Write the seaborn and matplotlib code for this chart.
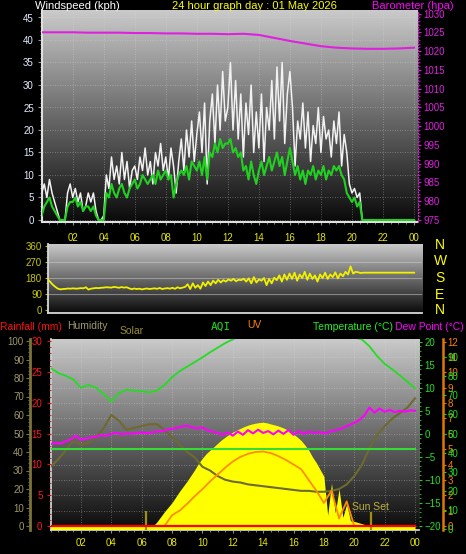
import numpy as np
import matplotlib
matplotlib.use('Agg')
import matplotlib.pyplot as plt
from matplotlib.ticker import MultipleLocator, FixedLocator
from matplotlib.colors import LinearSegmentedColormap
import seaborn as sns

# ---------------- data ----------------
t10 = np.arange(145) / 6.0   # 10-minute steps (hours)
t15 = np.arange(97) / 4.0
t20 = np.arange(73) / 3.0
t30 = np.arange(49) / 2.0
t60 = np.arange(25) * 1.0

wind_gust = [
    6, 8, 5, 9, 6, 4,
    2, 0, 0, 0, 6, 8,
    5, 7, 4, 6, 2, 3,
    6, 4, 6, 2, 0, 0,
    1, 10, 7, 14, 9, 12,
    8, 15, 9, 13, 7, 11,
    12, 9, 14, 11, 16, 10,
    13, 8, 15, 12, 17, 11,
    14, 9, 16, 12, 6, 13,
    18, 11, 20, 14, 22, 13,
    19, 24, 15, 26, 8, 22,
    28, 17, 30, 20, 33, 22,
    25, 35, 20, 31, 18, 28,
    14, 26, 19, 30, 15, 24,
    16, 28, 13, 25, 20, 31,
    18, 34, 22, 35, 17, 28,
    33, 25, 12, 22, 18, 26,
    16, 24, 13, 21, 17, 25,
    15, 23, 18, 20, 14, 22,
    17, 24, 12, 19, 15, 8,
    6, 7, 5, 6, 0, 0,
    0, 0, 0, 0, 0, 0,
    0, 0, 0, 0, 0, 0,
    0, 0, 0, 0, 0, 0,
    0]

wind_avg = [
    1, 3, 4, 5, 3, 2,
    1, 0, 0, 0, 3, 4,
    4, 5, 3, 4, 2, 3,
    3, 2, 3, 1, 0, 0,
    0, 6, 5, 8, 6, 5,
    7, 8, 6, 5, 7, 8,
    9, 7, 8, 10, 9, 8,
    9, 10, 8, 11, 9, 10,
    11, 9, 10, 5, 8, 10,
    11, 10, 12, 9, 13, 12,
    11, 13, 10, 14, 9, 15,
    14, 17, 15, 18, 16, 17,
    17, 18, 15, 16, 14, 15,
    11, 12, 9, 13, 10, 8,
    11, 13, 10, 12, 14, 11,
    13, 15, 12, 14, 10, 13,
    16, 13, 10, 12, 9, 11,
    8, 11, 10, 12, 9, 11,
    10, 12, 9, 11, 10, 12,
    11, 12, 10, 9, 6, 5,
    4, 5, 3, 4, 0, 0,
    0, 0, 0, 0, 0, 0,
    0, 0, 0, 0, 0, 0,
    0, 0, 0, 0, 0, 0,
    0]

barometer = [1025.0, 1025.0, 1025.0, 1024.9, 1024.9, 1024.9, 1024.8, 1024.8,
             1024.7, 1024.7, 1024.6, 1024.6, 1024.5, 1024.6, 1024.3, 1023.5,
             1022.7, 1022.0, 1021.3, 1020.9, 1020.7, 1020.6, 1020.6, 1020.7,
             1020.9]

wind_dir = [
    172, 158, 142, 130, 120, 116,
    118, 119, 121, 120, 122, 120,
    121, 123, 122, 128, 115, 120,
    122, 124, 123, 125, 126, 128,
    127, 126, 130, 128, 125, 129,
    126, 128, 122, 117, 121, 118,
    120, 116, 119, 121, 118, 120,
    122, 119, 124, 118, 121, 123,
    120, 125, 119, 128, 122, 126,
    130, 145, 118, 150, 125, 140,
    120, 155, 135, 160, 140, 165,
    150, 170, 155, 168, 160, 172,
    165, 175, 162, 170, 168, 176,
    160, 178, 150, 185, 155, 172,
    165, 180, 140, 175, 150, 182,
    168, 195, 160, 200, 170, 205,
    175, 210, 165, 200, 180, 215,
    170, 205, 175, 195, 160, 200,
    180, 210, 175, 200, 185, 212,
    178, 205, 190, 215, 200, 245,
    205, 215, 212, 208, 210, 210,
    210, 210, 210, 210, 210, 210,
    210, 210, 210, 210, 210, 210,
    210, 210, 210, 210, 210, 210,
    210]

temperature = [14.3, 13.2, 12.6, 11.8, 10.0, 10.6, 10.0, 8.6, 7.0, 8.8,
               9.6, 9.4, 9.3, 9.0, 9.4, 10.6, 12.3, 13.6, 14.6, 15.6,
               16.6, 17.7, 18.7, 19.7, 20.5, 21.3, 22.0, 22.6, 23.1, 23.4,
               23.5, 23.4, 23.2, 23.0, 22.8, 22.6, 22.3, 22.0, 21.7, 21.3,
               20.9, 20.5, 19.0, 16.9, 15.2, 14.0, 12.7, 11.3, 9.9]

dew_point = [
    -2.2, -2.0, -2.1, -1.6, -1.2, -0.4,
    -1.3, -1.0, -0.8, -0.6, -0.3, -0.4,
    0.0, 0.2, -0.1, 0.1, 0.0, 0.2,
    0.3, 0.1, 0.3, 0.5, 0.6, 0.9,
    1.1, 1.3, 1.6, 1.8, 1.4, 1.2,
    1.4, 0.8, 0.5, 0.2, -0.2, 0.3,
    -0.4, 0.5, -0.2, 0.8, 0.1, 0.9,
    0.2, 0.6, -0.1, 0.7, 0.0, 0.8,
    -0.2, 0.6, 0.0, 0.5, 0.2, 0.4,
    0.1, 0.4, 0.7, 1.0, 1.4, 1.9,
    2.4, 3.0, 4.0, 5.7, 4.6, 5.5,
    4.8, 5.2, 4.7, 5.0, 4.8, 5.1,
    5.0]

humidity = [32, 36, 41, 46, 44, 45, 48, 53, 60, 57,
            52, 53, 54, 55, 55, 52, 48, 44, 40, 37,
            32, 30, 27, 25, 24, 23.5, 22.5, 22, 21.5, 21,
            20.5, 20, 19.5, 19, 19, 18.5, 18.5, 19, 20, 22.5,
            27, 33, 42, 49, 54, 58, 61, 64, 69]

solar = [0, 0, 0, 0, 0, 0, 0, 0, 0, 0, 0, 0, 0, 0, 0, 0, 0, 0, 0, 0,
         0, 0, 0, 0, 0, 0, 0,
         5, 40, 85, 130, 170, 210, 260, 310, 355, 400, 450, 500, 555,
         600, 640, 670, 700, 730, 760, 785, 808, 828, 846, 862, 877,
         890, 900, 907, 913, 915, 910, 900, 892, 882, 870, 855, 835,
         810, 785, 755, 715, 670, 610, 560, 500, 440, 100, 380, 120,
         330, 80, 200, 50, 45, 35, 25, 15, 5,
         0, 0, 0, 0, 0, 0, 0, 0, 0, 0, 0, 0]

uv_index = [0, 0, 0, 0, 0, 0, 0, 0, 0, 0, 0, 0, 0, 0, 0, 0,
            0.7, 1.0, 1.45, 1.95, 2.4, 2.9, 3.35, 3.8, 4.2, 4.5,
            4.7, 4.82, 4.85, 4.75, 4.55, 4.3, 4.0, 3.7, 3.0, 2.3,
            1.5, 2.3, 0.5, 1.6,
            0, 0, 0, 0, 0, 0, 0, 0, 0]

aqi = [42] * 49
rainfall = [0.0] * 49

sunrise_hour = 6.28
sunset_hour = 21.09

hour_ticks = [2, 4, 6, 8, 10, 12, 14, 16, 18, 20, 22, 24]
hour_labels = ['02', '04', '06', '08', '10', '12', '14', '16', '18', '20', '22', '00']
dir_letters = ['N', 'W', 'S', 'E', 'N']

# ---------------- layout helpers ----------------
W, H = 466, 554
fig = plt.figure(figsize=(W / 100, H / 100), dpi=100, facecolor='black')
plt.rcParams['font.family'] = ['Liberation Sans', 'DejaVu Sans']
PT = 0.72  # points per pixel at 100 dpi

_n = [0]


def add_ax(l, t, r, b):
    _n[0] += 1
    ax = fig.add_axes([l / W, 1 - b / H, (r - l) / W, (b - t) / H], label='ax%d' % _n[0])
    ax.set_facecolor('none')
    for s in ax.spines.values():
        s.set_visible(False)
    ax.tick_params(axis='both', which='both', bottom=False, left=False, right=False, top=False,
                   labelbottom=False, labelleft=False, labelright=False, labeltop=False)
    return ax


def lims(v0, p0, v1, p1, lo_px, hi_px):
    k = (v1 - v0) / (p1 - p0)
    return v0 + (lo_px - p0) * k, v0 + (hi_px - p0) * k


cmap = LinearSegmentedColormap.from_list('g', ['#0a0a0a', '#cacaca'])
grad = np.linspace(1, 0, 256).reshape(-1, 1)


def gradient(ax):
    ax.imshow(grad, extent=[0, 1, 0, 1], transform=ax.transAxes, cmap=cmap,
              aspect='auto', zorder=0, vmin=0, vmax=1)


def hours_axis(ax, pad):
    ax.xaxis.set_major_locator(FixedLocator(hour_ticks))
    ax.set_xticklabels(hour_labels)
    ax.xaxis.set_minor_locator(MultipleLocator(0.5))
    ax.tick_params(axis='x', which='major', bottom=True, labelbottom=True, color='#909090',
                   labelcolor='#e8e800', labelsize=7, length=3 * PT, width=0.8, pad=pad,
                   direction='out')
    ax.tick_params(axis='x', which='minor', bottom=True, color='#909090', length=2 * PT, width=0.6)


# ---------------- top panel: wind + barometer ----------------
L1, T1, R1, B1 = 42, 10, 418, 222
ax_w = add_ax(L1, T1, R1, B1)
gradient(ax_w)
sns.lineplot(x=t10, y=wind_gust, ax=ax_w, color='#f2f2f2', linewidth=1.1, zorder=3)
sns.lineplot(x=t10, y=wind_avg, ax=ax_w, color='#22d022', linewidth=1.5, zorder=4)
ax_w.set_xlim(*lims(0, 41.7, 24, 414, L1, R1))
ax_w.set_ylim(*lims(0, 220, 40, 40, B1, T1))
ax_w.set_xlabel('')
ax_w.set_ylabel('')
hours_axis(ax_w, 5.5)
ax_w.yaxis.set_major_locator(FixedLocator(list(range(0, 50, 5))))
ax_w.yaxis.set_minor_locator(MultipleLocator(1))
ax_w.tick_params(axis='y', which='major', left=True, labelleft=True, color='#909090',
                 labelcolor='#e4ecff', labelsize=7, length=4 * PT, pad=3)
ax_w.tick_params(axis='y', which='minor', left=True, color='#909090', length=2 * PT)
ax_w.grid(True, which='major', color='#e0e0e0', ls=(0, (1, 2)), lw=0.6, alpha=0.45)
for s in ('left', 'bottom'):
    ax_w.spines[s].set_visible(True)
    ax_w.spines[s].set_color('#e0e0e0')
    ax_w.spines[s].set_linewidth(1.5)

ax_b = add_ax(L1, T1, R1, B1)
sns.lineplot(x=t60, y=barometer, ax=ax_b, color='#e020e0', linewidth=1.5)
ax_b.set_xlim(*ax_w.get_xlim())
ax_b.set_ylim(*lims(975, 220, 1025, 32.3, B1, T1))
ax_b.set_xlabel('')
ax_b.set_ylabel('')
ax_b.yaxis.set_label_position('right')
ax_b.yaxis.tick_right()
ax_b.yaxis.set_major_locator(FixedLocator(list(range(975, 1035, 5))))
ax_b.yaxis.set_minor_locator(MultipleLocator(1))
ax_b.tick_params(axis='y', which='major', right=True, labelright=True, left=False, labelleft=False,
                 color='#d020d0', labelcolor='#e020e0', labelsize=7, length=3 * PT, pad=2)
ax_b.tick_params(axis='y', which='minor', right=True, left=False, color='#c020c0', length=1.5 * PT)
ax_b.tick_params(axis='x', bottom=False, labelbottom=False)
ax_b.spines['right'].set_visible(True)
ax_b.spines['right'].set_color('#d020d0')
ax_b.spines['right'].set_linestyle(':')

# ---------------- middle panel: wind direction ----------------
L2, T2, R2, B2 = 47.7, 244, 421.7, 312.7
ax_d = add_ax(L2, T2, R2, B2)
gradient(ax_d)
sns.lineplot(x=t10, y=wind_dir, ax=ax_d, color='#f0f000', linewidth=1.3, zorder=3)
ax_d.set_xlim(*lims(0, 47.7, 24, 414.2, L2, R2))
ax_d.set_ylim(*lims(0, 310, 360, 246, B2, T2))
ax_d.set_xlabel('')
ax_d.set_ylabel('')
ax_d.yaxis.set_major_locator(FixedLocator([0, 90, 180, 270, 360]))
ax_d.yaxis.set_minor_locator(MultipleLocator(30))
ax_d.tick_params(axis='y', which='major', left=True, labelleft=True, color='#b8b800',
                 labelcolor='#c8c800', labelsize=7, length=3 * PT, pad=2)
ax_d.tick_params(axis='y', which='minor', left=True, color='#b8b800', length=2 * PT)
for v in (90, 180, 270):
    ax_d.axhline(v, color='#d0d0d0', lw=0.8, alpha=0.5, zorder=1)
for s in ('left', 'bottom'):
    ax_d.spines[s].set_visible(True)
    ax_d.spines[s].set_color('#d8d8d8')
    ax_d.spines[s].set_linewidth(1.3)

for letter, ypx in zip(dir_letters, [245, 261, 278, 295, 310]):
    fig.text(440 / W, 1 - ypx / H, letter, color='#ffff00', fontsize=10,
             ha='center', va='center')

# ---------------- bottom panel ----------------
L3, T3, R3, B3 = 50.6, 339, 419, 529.5
xl3 = lims(0, 50.6, 24, 415, L3, R3)

ax_base = add_ax(L3, T3, R3, B3)
gradient(ax_base)
ax_base.set_xlim(*xl3)
uv_lim = lims(0, 526, 12, 341.7, B3, T3)
ax_base.set_ylim(*uv_lim)
hours_axis(ax_base, 3.8)
ax_base.yaxis.set_major_locator(MultipleLocator(1))
ax_base.grid(True, which='major', color='#e0e0e0', ls=(0, (1, 2)), lw=0.6, alpha=0.45)
for s in ('left', 'bottom'):
    ax_base.spines[s].set_visible(True)
    ax_base.spines[s].set_color('#d0d0d0')
    ax_base.spines[s].set_linewidth(1.3)

# solar
ax_sol = add_ax(L3, T3, R3, B3)
sol_lim = lims(0, 526.5, 900, 424, B3, T3)
ax_sol.set_xlim(*xl3)
ax_sol.set_ylim(*sol_lim)
ax_sol.fill_between(t15, sol_lim[0], solar, color='#ffff00', lw=0, zorder=2)

# humidity
ax_hum = add_ax(L3, T3, R3, B3)
sns.lineplot(x=t30, y=humidity, ax=ax_hum, color='#6e6a30', linewidth=1.5)
ax_hum.set_xlim(*xl3)
ax_hum.set_ylim(*lims(0, 526, 100, 341, B3, T3))
ax_hum.set_xlabel('')
ax_hum.set_ylabel('')
ax_hum.spines['left'].set_visible(True)
ax_hum.spines['left'].set_position(('outward', 20.6 * PT))
ax_hum.spines['left'].set_color('#7a7438')
ax_hum.spines['left'].set_linewidth(2)
ax_hum.yaxis.set_major_locator(FixedLocator(list(range(0, 110, 10))))
ax_hum.yaxis.set_minor_locator(MultipleLocator(2))
ax_hum.tick_params(axis='y', which='major', left=True, labelleft=True, color='#7a7438',
                   labelcolor='#a09868', labelsize=7, length=4 * PT, pad=1.5)
ax_hum.tick_params(axis='y', which='minor', left=True, color='#7a7438', length=2 * PT)
ax_hum.tick_params(axis='x', bottom=False, labelbottom=False)

# UV
ax_uv = add_ax(L3, T3, R3, B3)
sns.lineplot(x=t30, y=uv_index, ax=ax_uv, color='#ff8c00', linewidth=1.3)
ax_uv.set_xlim(*xl3)
ax_uv.set_ylim(*uv_lim)
ax_uv.set_xlabel('')
ax_uv.set_ylabel('')
ax_uv.yaxis.tick_right()
ax_uv.spines['right'].set_visible(True)
ax_uv.spines['right'].set_position(('outward', 24 * PT))
ax_uv.spines['right'].set_color('#e07800')
ax_uv.spines['right'].set_linewidth(1.8)
ax_uv.yaxis.set_major_locator(FixedLocator(list(range(0, 13))))
ax_uv.tick_params(axis='y', which='major', right=True, labelright=True, left=False, labelleft=False,
                  color='#e07800', labelcolor='#ff8000', labelsize=7, length=3 * PT, pad=1)
ax_uv.tick_params(axis='x', bottom=False, labelbottom=False)

# AQI (own scale slightly offset)
ax_aqi = add_ax(L3, 337.7, R3, 529.3)
sns.lineplot(x=t30, y=aqi, ax=ax_aqi, color='#33dd33', linewidth=1.5)
ax_aqi.set_xlim(*xl3)
ax_aqi.set_ylim(0, 100)
ax_aqi.set_xlabel('')
ax_aqi.set_ylabel('')
ax_aqi.yaxis.tick_right()
ax_aqi.spines['right'].set_position(('outward', 24 * PT))
ax_aqi.yaxis.set_major_locator(FixedLocator(list(range(0, 100, 10))))
ax_aqi.tick_params(axis='y', which='major', right=True, labelright=True, left=False, labelleft=False,
                   color='#22cc22', labelcolor='#22dd22', labelsize=7, length=3 * PT, pad=1)
ax_aqi.tick_params(axis='x', bottom=False, labelbottom=False)

# temperature & dew point
ax_t = add_ax(L3, T3, R3, B3)
t_lim = lims(-20, 526, 20, 341.7, B3, T3)
sns.lineplot(x=t20, y=dew_point, ax=ax_t, color='#ff00ff', linewidth=1.5)
sns.lineplot(x=t30, y=temperature, ax=ax_t, color='#22dd22', linewidth=1.3)
ax_t.set_xlim(*xl3)
ax_t.set_ylim(*t_lim)
ax_t.set_xlabel('')
ax_t.set_ylabel('')
ax_t.yaxis.tick_right()
ax_t.yaxis.set_major_locator(FixedLocator(list(range(-20, 25, 5))))
ax_t.yaxis.set_minor_locator(MultipleLocator(1))
ax_t.tick_params(axis='y', which='major', right=True, labelright=True, left=False, labelleft=False,
                 color='#22cc22', labelcolor='#22e022', labelsize=7, length=3 * PT, pad=2)
ax_t.tick_params(axis='y', which='minor', right=True, left=False, color='#22cc22', length=1.5 * PT)
ax_t.tick_params(axis='x', bottom=False, labelbottom=False)
ax_t.vlines(sunrise_hour, t_lim[0], -16.7, color='#a09010', lw=1.6)
ax_t.vlines(sunset_hour, t_lim[0], -16.9, color='#a09010', lw=1.6)
ax_t.text(sunset_hour, -15.9, 'Sun Set', color='#c0b040', fontsize=7.5, ha='center', va='center')

# rainfall
ax_r = add_ax(L3, T3, R3, B3)
sns.lineplot(x=t30, y=rainfall, ax=ax_r, color='#ff0000', linewidth=1.6)
ax_r.set_xlim(*xl3)
ax_r.set_ylim(*lims(0, 526, 30, 341, B3, T3))
ax_r.set_xlabel('')
ax_r.set_ylabel('')
ax_r.yaxis.set_major_locator(FixedLocator(list(range(0, 35, 5))))
ax_r.yaxis.set_minor_locator(MultipleLocator(1))
ax_r.tick_params(axis='y', which='major', left=True, labelleft=True, color='#dd1010',
                 labelcolor='#ff1818', labelsize=7, length=4 * PT, pad=3)
ax_r.tick_params(axis='y', which='minor', left=True, color='#cc1010', length=2 * PT)
ax_r.tick_params(axis='x', bottom=False, labelbottom=False)

# ---------------- texts ----------------
def ftext(xpx, ypx, s, color, size=8, family=None):
    kw = {}
    if family:
        kw['family'] = family
    fig.text(xpx / W, 1 - ypx / H, s, color=color, fontsize=size, ha='left', va='center', **kw)


ftext(35, 6, 'Windspeed (kph)', '#ffffff')
ftext(172, 6, '24 hour graph day : 01 May 2026', '#ffff00')
ftext(372, 6, 'Barometer (hpa)', '#ff00ff')

ftext(0, 326.5, 'Rainfall (mm)', '#ff1010', 7.5)
ftext(67, 326, 'Humidity', '#a09870', 7.5)
ftext(120, 331, 'Solar', '#9a9030', 7.5)
ftext(211, 327, 'AQI', '#22dd22', 8, ['DejaVu Sans Mono'])
ftext(247, 325, 'UV', '#ff8000', 7.5)
ftext(313, 326.5, 'Temperature (°C)', '#22ee22', 7.5)
ftext(395, 326.5, 'Dew Point (°C)', '#ff00ff', 7.5)

fig.savefig('out.png', dpi=100, facecolor='black')
